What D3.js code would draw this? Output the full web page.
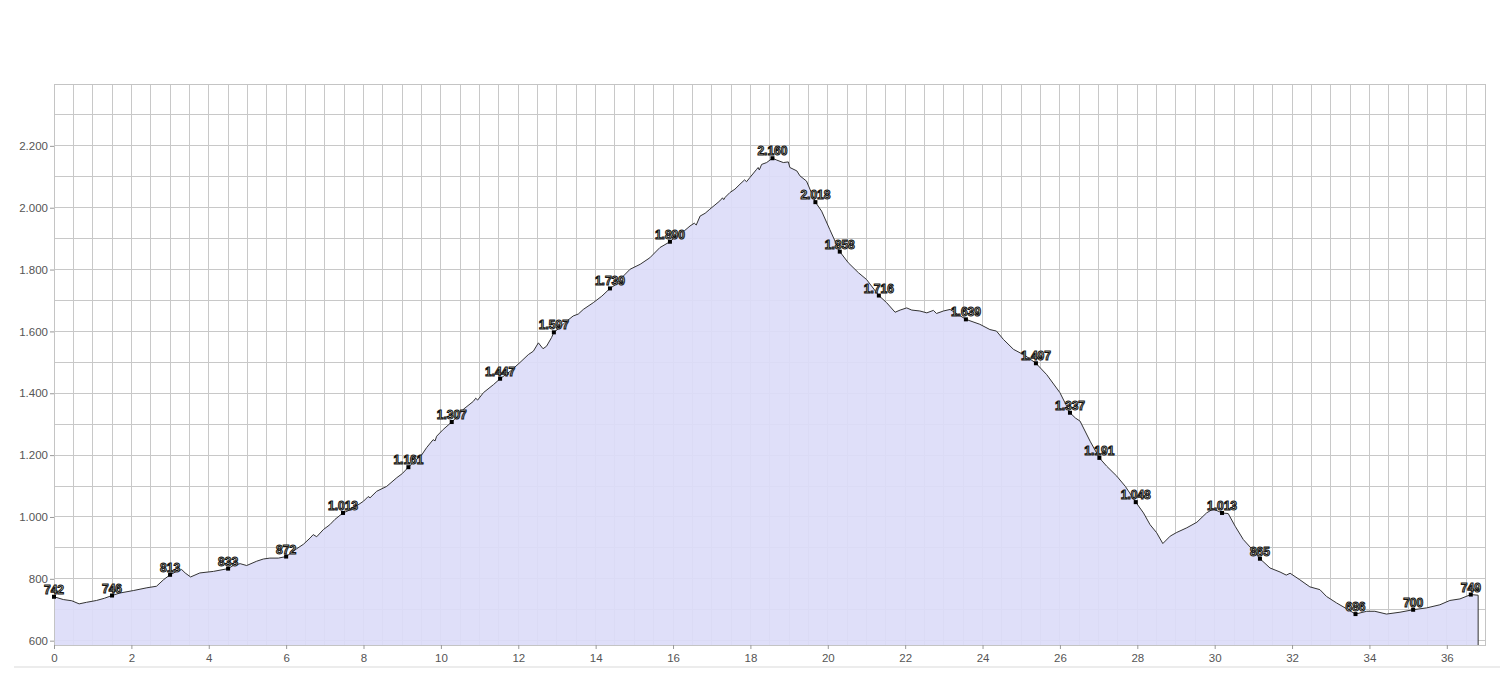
<!DOCTYPE html>
<html>
<head>
<meta charset="utf-8">
<script src="https://cdn.jsdelivr.net/npm/d3@7/dist/d3.min.js"></script>
<style>
  html, body { margin: 0; padding: 0; background: #fff; }
  svg { display: block; }
  .axis text { font-family: "Liberation Sans", Arial, sans-serif; font-size: 11.5px; fill: #555; }
  .axis line { stroke: #999; }
  .axis path { display: none; }
</style>
</head>
<body>
<svg id="chart" width="1500" height="678"></svg>
<script>
// ---- Data (distance in km, elevation in m) ----
const profileKm = [0,0.24,0.46,0.65,0.84,1.1,1.3,1.5,1.7,2.05,2.4,2.65,2.83,3.0,3.17,3.3,3.39,3.53,3.77,4.12,4.5,4.63,4.81,4.98,5.24,5.41,5.58,5.8,6.0,6.27,6.45,6.62,6.7,6.79,6.96,7.13,7.26,7.47,7.6,7.74,8.0,8.12,8.17,8.34,8.6,8.86,9.0,9.16,9.37,9.5,9.63,9.8,9.85,9.89,10.06,10.28,10.45,10.58,10.84,10.9,10.95,11.1,11.36,11.53,11.79,12.04,12.26,12.39,12.52,12.64,12.73,12.86,12.92,13.05,13.2,13.42,13.55,13.68,13.94,14.16,14.37,14.5,14.63,14.89,15.15,15.4,15.66,15.92,16.18,16.3,16.44,16.55,16.6,16.7,16.83,16.95,17.21,17.28,17.31,17.35,17.47,17.6,17.73,17.85,17.9,17.99,18.16,18.2,18.23,18.29,18.42,18.57,18.68,18.85,18.98,19.02,19.2,19.28,19.45,19.68,19.84,20.05,20.31,20.53,20.79,21.0,21.32,21.52,21.74,21.87,22.04,22.17,22.38,22.56,22.73,22.81,22.99,23.16,23.57,23.93,24.19,24.36,24.54,24.8,25.1,25.38,25.66,26.0,26.26,26.4,26.52,26.78,27.02,27.21,27.47,27.69,27.96,28.16,28.33,28.5,28.66,28.85,29.02,29.28,29.54,29.79,29.96,30.19,30.35,30.53,30.74,30.95,31.17,31.43,31.69,31.85,31.95,32.2,32.46,32.72,32.89,33.15,33.37,33.64,33.93,34.14,34.44,34.79,35.13,35.48,35.82,36.08,36.34,36.62,36.81];
const profileElev = [742,733,729,719,724,730,737,746,754,762,771,776,797,813,824,830,819,806,819,824,833,843,849,843,857,864,867,867,872,897,912,932,943,936,959,975,992,1013,1020,1029,1051,1066,1062,1083,1099,1127,1140,1161,1186,1200,1224,1250,1246,1261,1283,1307,1328,1348,1374,1384,1378,1402,1428,1447,1471,1499,1525,1536,1563,1544,1552,1580,1597,1610,1628,1650,1656,1671,1693,1714,1739,1750,1768,1801,1817,1838,1871,1890,1919,1926,1941,1950,1944,1973,1982,1995,2022,2032,2026,2034,2049,2060,2076,2090,2084,2098,2124,2130,2122,2140,2146,2160,2154,2146,2148,2130,2119,2103,2086,2018,1989,1930,1858,1822,1790,1768,1716,1693,1662,1669,1676,1669,1666,1660,1668,1658,1666,1671,1639,1623,1606,1601,1574,1542,1522,1497,1460,1402,1337,1320,1310,1245,1191,1164,1132,1099,1048,1013,975,949,914,938,950,965,983,1013,1026,1013,1011,970,927,898,865,835,822,812,818,797,774,765,743,722,706,686,695,695,686,692,700,706,716,730,735,749,747];

const labelKm   = [0,1.5,3.0,4.5,6.0,7.47,9.16,10.28,11.53,12.92,14.37,15.92,18.57,19.68,20.31,21.32,23.57,25.38,26.26,27.02,27.96,30.19,31.17,33.64,35.13,36.62];
const labelElev = [742,746,813,833,872,1013,1161,1307,1447,1597,1739,1890,2160,2018,1858,1716,1639,1497,1337,1191,1048,1013,865,686,700,749];

const xTickValues = [0,2,4,6,8,10,12,14,16,18,20,22,24,26,28,30,32,34,36];
const yTickValues = [600,800,1000,1200,1400,1600,1800,2000,2200];

// ---- Layout ----
const plotL = 54, plotR = 1485.5, plotT = 84, plotB = 645;
const svg = d3.select("#chart");

const x = d3.scaleLinear().domain([0, 37]).range([plotL, plotR]);
const y = d3.scaleLinear().domain([586, 2400]).range([plotB, plotT]);

const de = d3.formatLocale({decimal: ",", thousands: ".", grouping: [3], currency: ["", "€"]});
const fmt = de.format(",d");

// faint frame line below the chart
svg.append("line").attr("x1", 14).attr("x2", 1500).attr("y1", 667).attr("y2", 667)
  .attr("stroke", "#ececec").attr("stroke-width", 2);

// gridlines
const grid = svg.append("g");
grid.selectAll("line.v").data(d3.range(0, 37.001, 0.5)).join("line")
  .attr("x1", d => x(d)).attr("x2", d => x(d))
  .attr("y1", plotT).attr("y2", plotB)
  .attr("stroke", "#c8c8c8").attr("stroke-width", 1).attr("shape-rendering", "crispEdges");
grid.selectAll("line.h").data(d3.range(600, 2400.1, 100)).join("line")
  .attr("x1", plotL).attr("x2", plotR)
  .attr("y1", d => y(d)).attr("y2", d => y(d))
  .attr("stroke", "#c8c8c8").attr("stroke-width", 1).attr("shape-rendering", "crispEdges");

// area
const pts = profileKm.map((k, i) => [k, profileElev[i]]);
const area = d3.area().x(d => x(d[0])).y0(plotB).y1(d => y(d[1]));
svg.append("path").datum(pts).attr("d", area)
  .attr("fill", "#dcdcf8").attr("fill-opacity", 0.92);

const line = d3.line().x(d => x(d[0])).y(d => y(d[1]));
svg.append("path").datum(pts.concat([[profileKm[profileKm.length - 1], 586]])).attr("d", line)
  .attr("fill", "none").attr("stroke", "#333").attr("stroke-width", 1);

// border
svg.append("rect").attr("x", plotL).attr("y", plotT)
  .attr("width", plotR - plotL).attr("height", plotB - plotT)
  .attr("fill", "none").attr("stroke", "#c4c4c4").attr("stroke-width", 1)
  .attr("shape-rendering", "crispEdges");

// axes
svg.append("g").attr("class", "axis").attr("transform", `translate(${plotL},0)`)
  .call(d3.axisLeft(y).tickValues(yTickValues).tickSize(4).tickPadding(2).tickFormat(fmt));
svg.append("g").attr("class", "axis").attr("transform", `translate(0,${plotB})`)
  .call(d3.axisBottom(x).tickValues(xTickValues).tickSize(4).tickPadding(5).tickFormat(fmt));

// point labels
const labels = labelKm.map((k, i) => ({k, e: labelElev[i]}));
const lg = svg.append("g");
lg.selectAll("rect").data(labels).join("rect")
  .attr("x", d => x(d.k) - 2).attr("y", d => y(d.e) - 2)
  .attr("width", 4).attr("height", 4).attr("fill", "#000");
lg.selectAll("text").data(labels).join("text")
  .attr("x", d => x(d.k)).attr("y", d => y(d.e) - 3)
  .attr("text-anchor", "middle")
  .attr("font-family", "Liberation Sans, Arial, sans-serif")
  .attr("font-size", "12px").attr("font-weight", "bold")
  .attr("fill", "#d4d4c4").attr("stroke", "#111").attr("stroke-width", 1)
  .text(d => fmt(d.e));
</script>
</body>
</html>
